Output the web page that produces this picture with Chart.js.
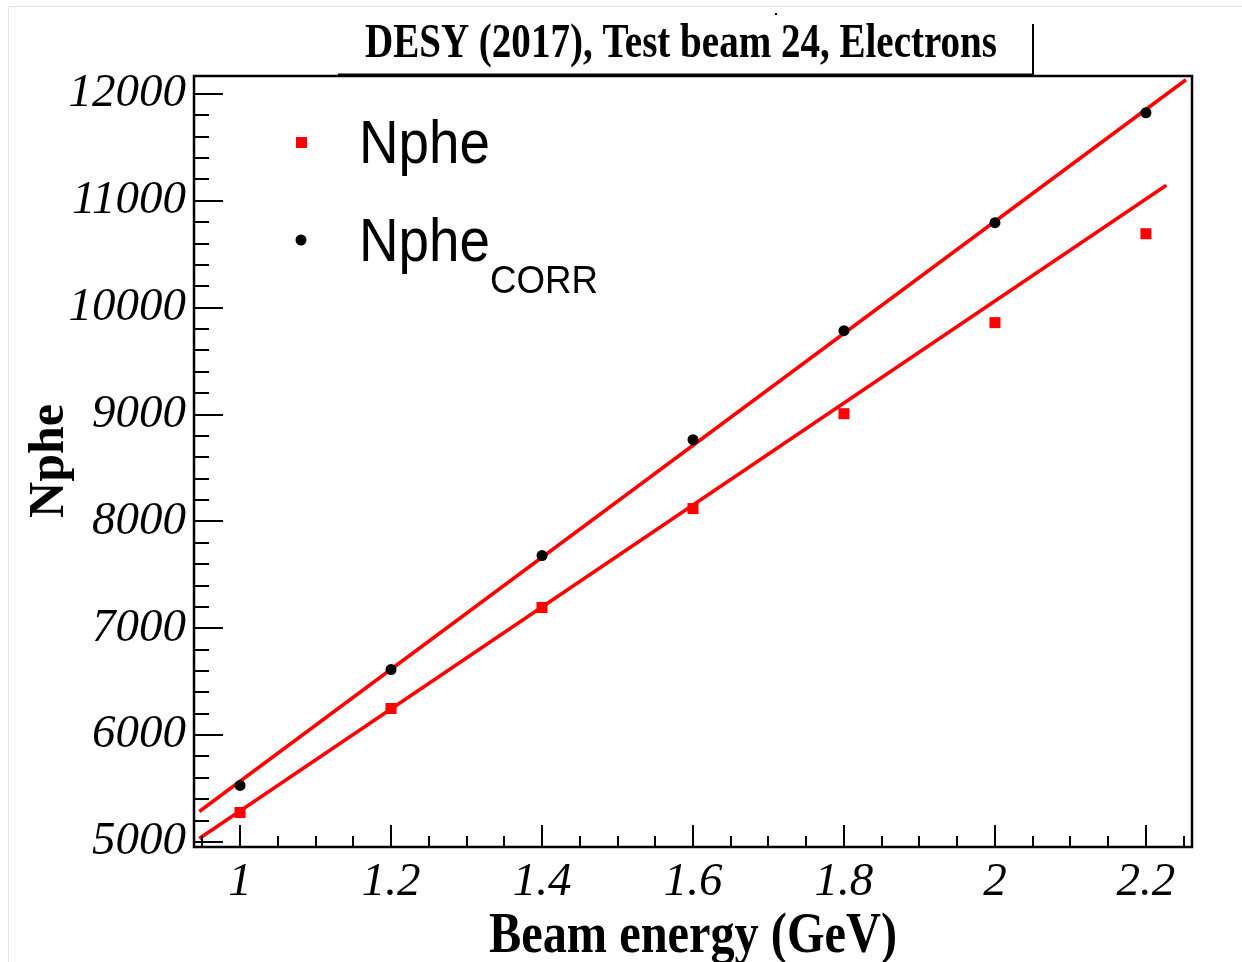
<!DOCTYPE html>
<html>
<head>
<meta charset="utf-8">
<script src="https://cdn.jsdelivr.net/npm/chart.js@4.4.1/dist/chart.umd.min.js"></script>
<style>
  html, body { margin: 0; padding: 0; background: #fff; }
  #chart { display: block; }
</style>
</head>
<body>
<canvas id="chart" width="1242" height="962"></canvas>
<script>
// beam energies (GeV)
const energies = [1.0, 1.2, 1.4, 1.6, 1.8, 2.0, 2.2];
// measured photoelectrons
const nphe = [5276, 6249, 7194, 8120, 9008, 9860, 10692];
// corrected photoelectrons
const npheCorr = [5529, 6614, 7680, 8765, 9785, 10795, 11824];

// linear fit end points
const fitCorrX = [0.946, 2.253];
const fitCorrY = [5285, 12133];
const fitX = [0.946, 2.227];
const fitY = [5033, 11145];

const xTicks = [1, 1.2, 1.4, 1.6, 1.8, 2, 2.2];
const yTicks = [5000, 6000, 7000, 8000, 9000, 10000, 11000, 12000];

const titleText = 'DESY (2017), Test beam 24, Electrons';
const xTitle = 'Beam energy (GeV)';
const yTitle = 'Nphe';

const pts = (xs, ys) => xs.map((x, i) => ({ x: x, y: ys[i] }));

// frame, inward ticks, title box, axis titles and legend, ROOT style
const rootStyle = {
    id: 'rootStyle',
    afterDraw(chart) {
        const ctx = chart.ctx;
        const a = chart.chartArea;
        const xs = chart.scales.x;
        const ys = chart.scales.y;
        ctx.save();

        // faint page border
        ctx.strokeStyle = '#e4e4e4';
        ctx.lineWidth = 1;
        ctx.beginPath();
        ctx.moveTo(8.5, 962);
        ctx.lineTo(8.5, 6.5);
        ctx.lineTo(1242, 6.5);
        ctx.stroke();

        // ticks
        ctx.strokeStyle = '#000';
        ctx.lineWidth = 2;
        ctx.beginPath();
        for (let v = 0.95; v < xs.max; v += 0.05) {
            const px = Math.round(xs.getPixelForValue(v));
            if (px <= a.left) continue;
            const major = Math.abs(v * 5 - Math.round(v * 5)) < 1e-6;
            ctx.moveTo(px, a.bottom);
            ctx.lineTo(px, a.bottom - (major ? 22 : 11));
        }
        for (let v = 5000; v < ys.max; v += 200) {
            const py = Math.round(ys.getPixelForValue(v));
            const major = v % 1000 === 0;
            ctx.moveTo(a.left, py);
            ctx.lineTo(a.left + (major ? 29 : 15), py);
        }
        ctx.stroke();

        // frame
        ctx.lineWidth = 2.5;
        ctx.strokeRect(a.left, a.top, a.right - a.left, a.bottom - a.top);

        // title box
        ctx.lineWidth = 2;
        ctx.beginPath();
        ctx.moveTo(338, 74.5);
        ctx.lineTo(1033, 74.5);
        ctx.moveTo(1033, 24);
        ctx.lineTo(1033, 75);
        ctx.stroke();
        ctx.fillStyle = '#000';
        ctx.fillRect(775, 13, 2, 2);

        ctx.fillStyle = '#000';
        ctx.textAlign = 'center';
        ctx.textBaseline = 'alphabetic';
        ctx.font = 'bold 48px "Liberation Serif"';
        ctx.fillText(titleText, 681, 57, 632);

        // axis titles
        ctx.font = 'bold 56px "Liberation Serif"';
        ctx.fillText(xTitle, (a.left + a.right) / 2, 952, 408);
        ctx.save();
        ctx.translate(63, 461);
        ctx.rotate(-Math.PI / 2);
        ctx.font = 'bold 50px "Liberation Serif"';
        ctx.fillText(yTitle, 0, 0, 122);
        ctx.restore();

        // legend
        ctx.fillStyle = '#ff0000';
        ctx.fillRect(296, 137, 11, 11);
        ctx.fillStyle = '#000';
        ctx.beginPath();
        ctx.arc(301, 240, 5.5, 0, Math.PI * 2);
        ctx.fill();
        ctx.textAlign = 'left';
        ctx.font = '62px "Liberation Sans"';
        ctx.fillText('Nphe', 359, 163, 131);
        ctx.fillText('Nphe', 359, 261, 131);
        ctx.font = '38px "Liberation Sans"';
        ctx.fillText('CORR', 490, 293, 108);

        ctx.restore();
    }
};

new Chart(document.getElementById('chart'), {
    type: 'scatter',
    data: {
        datasets: [
            {
                label: 'Nphe',
                data: pts(energies, nphe),
                pointStyle: 'rect',
                pointRadius: 7.8,
                backgroundColor: '#ff0000',
                borderWidth: 0,
                order: 0,
            },
            {
                label: 'Nphe CORR',
                data: pts(energies, npheCorr),
                pointStyle: 'circle',
                pointRadius: 5.5,
                backgroundColor: '#000',
                borderWidth: 0,
                order: 0,
            },
            {
                label: 'fit CORR',
                data: pts(fitCorrX, fitCorrY),
                showLine: true,
                borderColor: '#ff0000',
                borderWidth: 3.5,
                pointRadius: 0,
                order: 1,
            },
            {
                label: 'fit',
                data: pts(fitX, fitY),
                showLine: true,
                borderColor: '#ff0000',
                borderWidth: 3.5,
                pointRadius: 0,
                order: 1,
            },
        ],
    },
    options: {
        responsive: false,
        animation: false,
        events: [],
        layout: { padding: { top: 76, right: 50, left: 0, bottom: 0 } },
        plugins: {
            legend: { display: false },
            title: { display: false },
            tooltip: { enabled: false },
        },
        scales: {
            x: {
                type: 'linear',
                min: 0.939,
                max: 2.261,
                grid: { display: false, drawTicks: false },
                border: { display: false },
                afterBuildTicks: (scale) => { scale.ticks = xTicks.map(v => ({ value: v })); },
                afterFit: (scale) => { scale.height = 115; },
                ticks: {
                    color: '#000',
                    padding: 7,
                    maxRotation: 0,
                    autoSkip: false,
                    font: { family: 'Liberation Serif', style: 'italic', size: 47 },
                    callback: (v) => String(v),
                },
            },
            y: {
                type: 'linear',
                min: 4953,
                max: 12168,
                grid: { display: false, drawTicks: false },
                border: { display: false },
                afterBuildTicks: (scale) => { scale.ticks = yTicks.map(v => ({ value: v })); },
                afterFit: (scale) => { scale.width = 194; },
                ticks: {
                    color: '#000',
                    padding: 8,
                    autoSkip: false,
                    font: { family: 'Liberation Serif', style: 'italic', size: 47 },
                    callback: (v) => String(v),
                },
            },
        },
    },
    plugins: [rootStyle],
});
</script>
</body>
</html>
